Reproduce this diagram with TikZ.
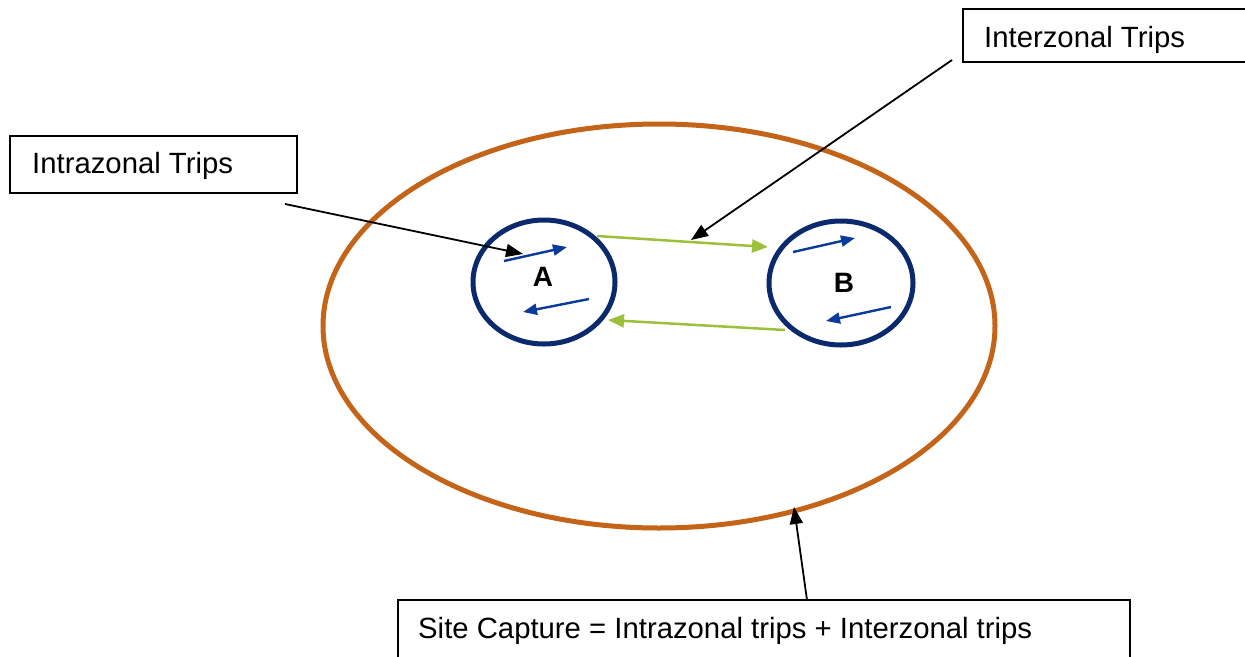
\documentclass[tikz,border=0pt]{standalone}
\usepackage{fontspec}
\setmainfont{Liberation Sans}
\usetikzlibrary{arrows.meta,shapes.geometric}
\definecolor{orng}{HTML}{C46419}
\definecolor{navy}{HTML}{0B2A6E}
\definecolor{trip}{HTML}{0A3A9A}
\definecolor{grn}{HTML}{9DC03A}
\tikzset{
  labelbox/.style={draw=black, line width=1.2pt, fill=white},
  labeltext/.style={anchor=base west, inner sep=0pt, font=\fontsize{29.3}{34}\selectfont},
  zone/.style={ellipse, draw=navy, line width=5pt, inner sep=0pt},
  zonetext/.style={font=\fontsize{28}{32}\selectfont\bfseries, inner sep=0pt},
  pointer/.style={draw=black, line width=1.8pt, -{Triangle[length=17pt,width=13pt]}},
  intra/.style={draw=trip, line width=2.4pt, -{Triangle[length=14pt,width=11pt]}},
  inter/.style={draw=grn, line width=2.5pt, -{Triangle[length=16pt,width=13pt]}},
}
\begin{document}
\begin{tikzpicture}[x=1pt,y=-1pt]
\useasboundingbox (0,0) rectangle (1245,656);
\clip (0,0) rectangle (1245,656);
\fill[white] (0,0) rectangle (1245,656);
% site ellipse
\node[ellipse, draw=orng, line width=5pt, minimum width=672pt, minimum height=404pt, inner sep=0pt] (site) at (659,326) {};
% zones
\node[zone, minimum width=142pt, minimum height=124pt] (A) at (544,282) {};
\node[zone, minimum width=144pt, minimum height=124pt] (B) at (841,283) {};
\node[zonetext] (Alab) at (543,277) {A};
\node[zonetext] (Blab) at (844,283) {B};
% label boxes
\draw[labelbox] (10,136) rectangle (297,193);
\node[labeltext] (intralab) at (32,173) {Intrazonal Trips};
\draw[labelbox] (963,9) rectangle (1260,62);
\node[labeltext] (interlab) at (984,47) {Interzonal Trips};
\draw[labelbox] (398,600) rectangle (1130,680);
\node[labeltext] (sitelab) at (418,638) {Site Capture = Intrazonal trips + Interzonal trips};
% intrazonal arrows
\coordinate (a1s) at (504,261); \coordinate (a1e) at (567,247);
\coordinate (a2s) at (589,299); \coordinate (a2e) at (523,312);
\coordinate (b1s) at (793,252); \coordinate (b1e) at (855,238);
\coordinate (b2s) at (891,307); \coordinate (b2e) at (826,321);
\draw[intra] (a1s) -- (a1e);
\draw[intra] (a2s) -- (a2e);
\draw[intra] (b1s) -- (b1e);
\draw[intra] (b2s) -- (b2e);
% interzonal arrows
\coordinate (g1s) at (597,236); \coordinate (g1e) at (768,247);
\coordinate (g2s) at (785,330); \coordinate (g2e) at (608,320);
\draw[inter] (g1s) -- (g1e);
\draw[inter] (g2s) -- (g2e);
% pointers
\coordinate (p1s) at (285,204); \coordinate (p1e) at (523,254);
\coordinate (p2s) at (952,60); \coordinate (p2e) at (691,240);
\coordinate (p3s) at (807,600); \coordinate (p3e) at (794,507);
\draw[pointer] (p1s) -- (p1e);
\draw[pointer] (p2s) -- (p2e);
\draw[pointer] (p3s) -- (p3e);
\end{tikzpicture}
\end{document}
